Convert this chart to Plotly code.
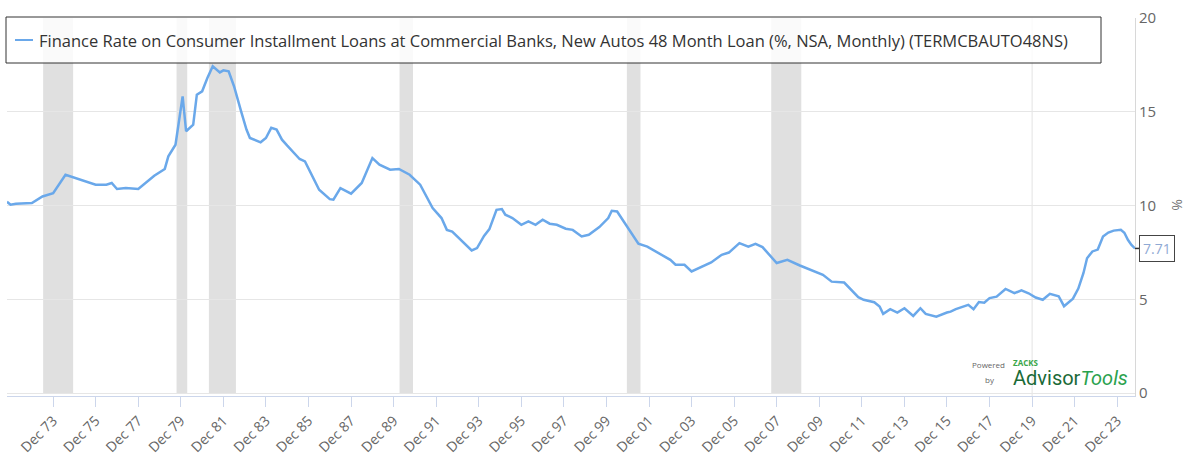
import plotly.graph_objects as go

# ---- data ----
dates = [
    "1971-10-01", "1971-12-01", "1972-03-01", "1972-12-01", "1973-06-01", "1973-12-01",
    "1974-07-01", "1975-01-01", "1975-06-01", "1975-12-01", "1976-06-01", "1976-09-01",
    "1976-12-01", "1977-05-01", "1977-12-01", "1978-04-01", "1978-09-01", "1979-03-01",
    "1979-05-01", "1979-09-01", "1980-01-01", "1980-03-01", "1980-07-01", "1980-09-01",
    "1980-12-01", "1981-03-01", "1981-06-01", "1981-10-01", "1981-12-01", "1982-03-01",
    "1982-06-01", "1982-10-01", "1983-01-01", "1983-03-01", "1983-09-01", "1983-12-01",
    "1984-03-01", "1984-06-01", "1984-09-01", "1984-12-01", "1985-03-01", "1985-07-01",
    "1985-10-01", "1986-02-01", "1986-06-01", "1986-12-01", "1987-02-01", "1987-06-01",
    "1987-12-01", "1988-06-01", "1988-12-01", "1989-04-01", "1989-10-01", "1990-03-01",
    "1990-09-01", "1991-03-01", "1991-10-01", "1992-03-01", "1992-06-01", "1992-09-01",
    "1993-01-01", "1993-05-01", "1993-08-01", "1993-11-01", "1994-03-01", "1994-06-01",
    "1994-10-01", "1995-01-01", "1995-03-01", "1995-07-01", "1995-12-01", "1996-04-01",
    "1996-08-01", "1996-12-01", "1997-04-01", "1997-08-01", "1998-01-01", "1998-05-01",
    "1998-10-01", "1999-02-01", "1999-08-01", "2000-01-01", "2000-03-01", "2000-06-01",
    "2000-12-01", "2001-06-01", "2001-11-01", "2002-04-01", "2002-10-01", "2002-12-01",
    "2003-03-01", "2003-08-01", "2003-12-01", "2004-04-01", "2004-11-01", "2005-05-01",
    "2005-09-01", "2006-03-01", "2006-08-01", "2006-12-01", "2007-04-01", "2007-12-01",
    "2008-06-01", "2009-01-01", "2009-08-01", "2010-02-01", "2010-07-01", "2011-02-01",
    "2011-10-01", "2012-01-01", "2012-07-01", "2012-10-01", "2012-12-01", "2013-04-01",
    "2013-08-01", "2013-12-01", "2014-05-01", "2014-09-01", "2014-12-01", "2015-06-01",
    "2015-12-01", "2016-02-01", "2016-05-01", "2016-12-01", "2017-03-01", "2017-06-01",
    "2017-09-01", "2017-12-01", "2018-04-01", "2018-09-01", "2019-02-01", "2019-06-01",
    "2019-10-01", "2020-02-01", "2020-06-01", "2020-10-01", "2021-03-01", "2021-06-01",
    "2021-11-01", "2022-02-01", "2022-05-01", "2022-07-01", "2022-10-01", "2023-01-01",
    "2023-04-01", "2023-07-01", "2023-10-01", "2024-02-01", "2024-04-01", "2024-06-01",
    "2024-08-01", "2024-10-01",
]
rates = [
    10.20, 10.04, 10.09, 10.13, 10.48, 10.66,
    11.64, 11.46, 11.28, 11.11, 11.11, 11.20,
    10.88, 10.93, 10.88, 11.20, 11.59, 11.95,
    12.62, 13.24, 15.82, 13.96, 14.31, 15.91,
    16.09, 16.80, 17.43, 17.10, 17.21, 17.16,
    16.36, 15.02, 14.05, 13.60, 13.37, 13.60,
    14.14, 14.05, 13.51, 13.19, 12.89, 12.48,
    12.35, 11.55, 10.84, 10.34, 10.31, 10.93,
    10.63, 11.20, 12.53, 12.18, 11.91, 11.95,
    11.64, 11.11, 9.86, 9.33, 8.70, 8.61,
    8.26, 7.90, 7.60, 7.73, 8.38, 8.74,
    9.77, 9.81, 9.51, 9.33, 8.97, 9.15,
    8.97, 9.24, 9.03, 8.97, 8.76, 8.70,
    8.35, 8.44, 8.85, 9.33, 9.72, 9.68,
    8.80, 7.96, 7.81, 7.55, 7.19, 7.10,
    6.84, 6.84, 6.48, 6.66, 6.96, 7.37,
    7.49, 7.99, 7.81, 7.96, 7.78, 6.93,
    7.10, 6.80, 6.53, 6.30, 5.94, 5.89,
    5.11, 4.97, 4.84, 4.61, 4.22, 4.47,
    4.29, 4.52, 4.11, 4.52, 4.22, 4.07,
    4.29, 4.34, 4.47, 4.70, 4.47, 4.85,
    4.82, 5.06, 5.14, 5.55, 5.32, 5.48,
    5.32, 5.09, 4.97, 5.29, 5.16, 4.63,
    5.03, 5.57, 6.40, 7.19, 7.55, 7.65,
    8.35, 8.56, 8.66, 8.70, 8.55, 8.17,
    7.90, 7.71,
]

recession_start = ["1973-06-12", "1979-09-19", "1981-03-27", "1990-03-12", "2000-11-15", "2007-08-29"]
recession_end = ["1974-11-09", "1980-03-20", "1982-07-04", "1990-10-29", "2001-07-07", "2009-01-26"]

tick_dates = ["%d-12-01" % y for y in [1973, 1975, 1977, 1979, 1981, 1983, 1985, 1987, 1989, 1991, 1993,
                                       1995, 1997, 1999, 2001, 2003, 2005, 2007, 2009, 2011, 2013,
                                       2015, 2017, 2019, 2021, 2023]]
tick_text = ["Dec 73", "Dec 75", "Dec 77", "Dec 79", "Dec 81", "Dec 83", "Dec 85", "Dec 87",
             "Dec 89", "Dec 91", "Dec 93", "Dec 95", "Dec 97", "Dec 99", "Dec 01", "Dec 03",
             "Dec 05", "Dec 07", "Dec 09", "Dec 11", "Dec 13", "Dec 15", "Dec 17", "Dec 19",
             "Dec 21", "Dec 23"]
y_ticks = [0, 5, 10, 15, 20]

series_name = ("Finance Rate on Consumer Installment Loans at Commercial Banks, New Autos 48 Month Loan "
               "(%, NSA, Monthly) (TERMCBAUTO48NS)")
last_value = 7.71

# ---- layout geometry (pixels) ----
W, H = 1193, 455
ML, MR, MT, MB = 7, 58, 18, 59
PW = W - ML - MR
PH = H - MT - MB


def px(xp):
    return (xp - ML) / PW


def py(yp):
    return (H - MB - yp) / PH


LINE_COLOR = "#6aa8ea"
FONT = "Open Sans"

fig = go.Figure()
fig.add_trace(go.Scatter(x=dates, y=rates, mode="lines",
                         line=dict(color=LINE_COLOR, width=2.5),
                         name=series_name, showlegend=False, hoverinfo="x+y"))

shapes = []
for s, e in zip(recession_start, recession_end):
    shapes.append(dict(type="rect", xref="x", yref="y", x0=s, x1=e, y0=0, y1=20,
                       fillcolor="#e0e0e0", line=dict(width=0), layer="below"))
# faint vertical line at Dec 19
shapes.append(dict(type="line", xref="x", yref="paper", x0="2019-12-01", x1="2019-12-01",
                   y0=0, y1=1, line=dict(color="#e3e3e3", width=1), layer="below"))
# legend box
shapes.append(dict(type="rect", xref="paper", yref="paper", x0=px(6), x1=px(1101), y0=py(63), y1=py(17),
                   fillcolor="rgba(255,255,255,0.82)", line=dict(color="#333333", width=1), layer="above"))
shapes.append(dict(type="line", xref="paper", yref="paper", x0=px(15), x1=px(33), y0=py(40), y1=py(40),
                   line=dict(color=LINE_COLOR, width=2), layer="above"))
# last value marker tick
shapes.append(dict(type="line", xref="paper", yref="y", x0=1.0, x1=px(1140), y0=last_value, y1=last_value,
                   line=dict(color="#333333", width=1.5), layer="above"))

annotations = [
    dict(xref="paper", yref="paper", x=px(37), y=py(40), xanchor="left", yanchor="middle",
         text=series_name, showarrow=False, font=dict(family=FONT, size=16.5, color="#333333")),
    dict(xref="paper", yref="y", x=px(1139), y=last_value, xanchor="left", yanchor="middle",
         text="%.2f" % last_value, showarrow=False, font=dict(family=FONT, size=14, color="#8fa9d4"),
         bordercolor="#444444", borderwidth=1, borderpad=3, bgcolor="#ffffff"),
    dict(xref="paper", yref="paper", x=px(1177), y=py(205), xanchor="center", yanchor="middle",
         text="%", textangle=90, showarrow=False, font=dict(family=FONT, size=14, color="#777777")),
    dict(xref="paper", yref="paper", x=px(970), y=py(364), xanchor="left", yanchor="middle",
         text="Powered", showarrow=False, font=dict(family=FONT, size=8, color="#666666")),
    dict(xref="paper", yref="paper", x=px(1011), y=py(362), xanchor="left", yanchor="middle",
         text="<b>ZACKS</b>", showarrow=False, font=dict(family=FONT, size=8, color="#3aa64a")),
    dict(xref="paper", yref="paper", x=px(983), y=py(379), xanchor="left", yanchor="middle",
         text="by", showarrow=False, font=dict(family=FONT, size=8, color="#666666")),
    dict(xref="paper", yref="paper", x=px(1011), y=py(378), xanchor="left", yanchor="middle",
         text="<span style='color:#1b6a37'>Advisor</span><i><span style='color:#2aa24e'>Tools</span></i>",
         showarrow=False, font=dict(family="Roboto", size=20)),
]

fig.update_layout(
    width=W, height=H,
    margin=dict(l=ML, r=MR, t=MT, b=MB, pad=0, autoexpand=False),
    paper_bgcolor="#ffffff", plot_bgcolor="#ffffff",
    showlegend=False,
    shapes=shapes, annotations=annotations,
    xaxis=dict(type="date", range=["1971-10-01", "2024-10-01"], automargin=False,
               tickmode="array", tickvals=tick_dates, ticktext=tick_text,
               tickangle=-45, ticks="outside", ticklen=10, tickcolor="#ccd6eb",
               showline=True, linecolor="#ccd6eb", linewidth=1, showgrid=False, zeroline=False,
               tickfont=dict(family=FONT, size=14, color="#666666")),
    yaxis=dict(side="right", range=[-0.16, 20], tickmode="array", tickvals=y_ticks, automargin=False,
               showgrid=True, gridcolor="#e6e6e6", gridwidth=1, zeroline=False,
               showline=True, linecolor="#d8d8d8", linewidth=1, ticks="",
               tickfont=dict(family=FONT, size=15, color="#666666")),
)

fig.write_html("out.html")
